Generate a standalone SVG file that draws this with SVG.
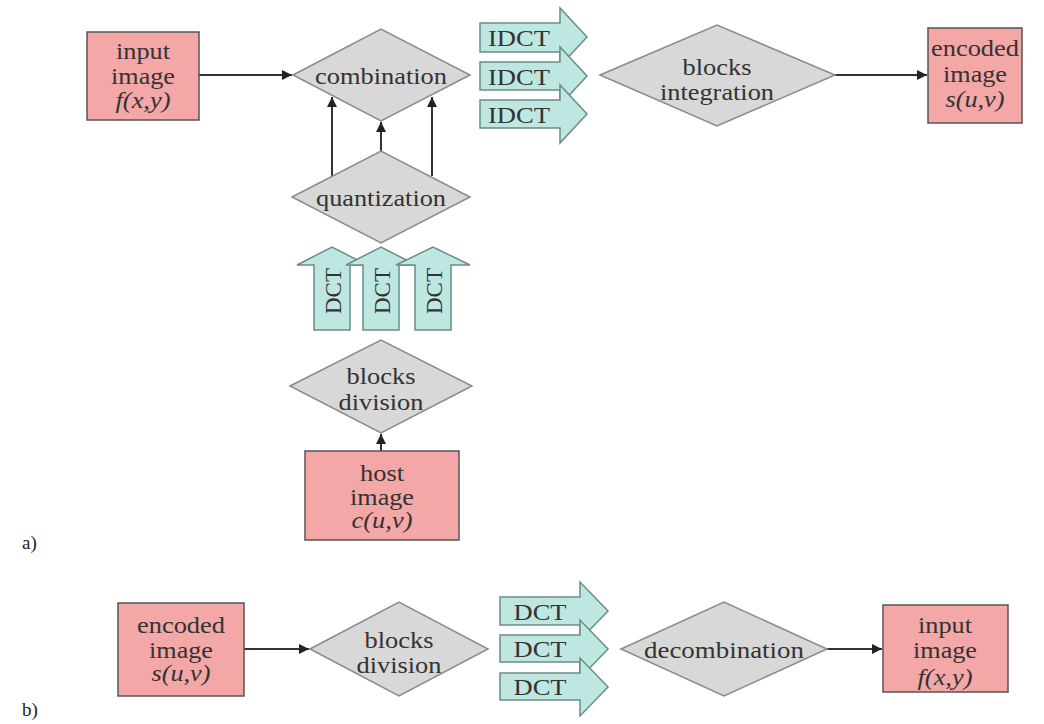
<svg xmlns="http://www.w3.org/2000/svg" width="1044" height="724" viewBox="0 0 1044 724">
<defs>
<style>
.box{fill:#f4a7a7;stroke:#555;stroke-width:1.5}
.dia{fill:#d8d8d8;stroke:#8a8a8a;stroke-width:1.5}
.arr{fill:#bfe7e1;stroke:#6b8c88;stroke-width:1.5}
.t{font-family:"Liberation Serif","Times New Roman",serif;font-size:23px;fill:#333;text-anchor:middle;dominant-baseline:central}
.i{font-style:italic}
.lab{font-family:"Liberation Serif","Times New Roman",serif;font-size:19px;fill:#222}
.c{stroke:#333;stroke-width:2;fill:none;marker-end:url(#ah)}
</style>
<marker id="ah" viewBox="0 0 10 10" refX="10" refY="5" markerWidth="5" markerHeight="5" orient="auto" markerUnits="strokeWidth">
<path d="M0,0 L10,5 L0,10 z" fill="#222"/>
</marker>
</defs>
<rect width="1044" height="724" fill="#fff"/>

<g id="connectors">
<line class="c" x1="199" y1="75" x2="292" y2="75"/>
<line class="c" x1="332" y1="176" x2="332" y2="97"/>
<line class="c" x1="381" y1="151" x2="381" y2="122"/>
<line class="c" x1="432" y1="176" x2="432" y2="97"/>
<line class="c" x1="381" y1="451" x2="381" y2="434"/>
<line class="c" x1="835" y1="75" x2="927" y2="75"/>
<line class="c" x1="244" y1="649" x2="309" y2="649"/>
<line class="c" x1="827" y1="649" x2="882" y2="649"/>
</g>

<g id="input-image-a">
<rect class="box" x="87" y="32" width="112" height="88"/>
<text class="t" x="143" y="51" textLength="54" lengthAdjust="spacingAndGlyphs">input</text>
<text class="t" x="143" y="76" textLength="64" lengthAdjust="spacingAndGlyphs">image</text>
<text class="t i" x="143" y="100" textLength="55" lengthAdjust="spacingAndGlyphs">f(x,y)</text>
</g>

<g id="combination">
<polygon class="dia" points="293,75 381,29 470,75 381,121"/>
<text class="t" x="381" y="76" textLength="132" lengthAdjust="spacingAndGlyphs">combination</text>
</g>

<g id="quantization">
<polygon class="dia" points="292,197 381,151 470,197 381,243"/>
<text class="t" x="381" y="198" textLength="130" lengthAdjust="spacingAndGlyphs">quantization</text>
</g>

<g id="idct-1">
<polygon class="arr" points="480,23 560,23 560,8 587,37 560,66 560,52 480,52"/>
<text class="t" x="519" y="38" textLength="62" lengthAdjust="spacingAndGlyphs">IDCT</text>
</g>
<g id="idct-2">
<polygon class="arr" points="480,62 560,62 560,47 587,76 560,105 560,90 480,90"/>
<text class="t" x="519" y="77" textLength="62" lengthAdjust="spacingAndGlyphs">IDCT</text>
</g>
<g id="idct-3">
<polygon class="arr" points="480,100 560,100 560,85 587,114 560,143 560,128 480,128"/>
<text class="t" x="519" y="115" textLength="62" lengthAdjust="spacingAndGlyphs">IDCT</text>
</g>

<g id="blocks-integration">
<polygon class="dia" points="600,75 717,25 835,75 717,126"/>
<text class="t" x="717" y="67" textLength="69" lengthAdjust="spacingAndGlyphs">blocks</text>
<text class="t" x="717" y="92" textLength="114" lengthAdjust="spacingAndGlyphs">integration</text>
</g>

<g id="encoded-image-a">
<rect class="box" x="928" y="28" width="94" height="95"/>
<text class="t" x="975" y="48" textLength="88" lengthAdjust="spacingAndGlyphs">encoded</text>
<text class="t" x="975" y="74" textLength="64" lengthAdjust="spacingAndGlyphs">image</text>
<text class="t i" x="975" y="99" textLength="59" lengthAdjust="spacingAndGlyphs">s(u,v)</text>
</g>

<g id="dct-up-1">
<polygon class="arr" points="314,330 314,265 297,265 332,247 367,265 350,265 350,330"/>
<text class="t" transform="translate(333,291) rotate(-90)">DCT</text>
</g>
<g id="dct-up-2">
<polygon class="arr" points="363,330 363,265 346,265 381,247 416,265 399,265 399,330"/>
<text class="t" transform="translate(382,291) rotate(-90)">DCT</text>
</g>
<g id="dct-up-3">
<polygon class="arr" points="415,330 415,265 396,265 433,247 470,265 451,265 451,330"/>
<text class="t" transform="translate(434,291) rotate(-90)">DCT</text>
</g>

<g id="blocks-division-a">
<polygon class="dia" points="290,386 381,340 472,386 381,433"/>
<text class="t" x="381" y="376" textLength="69" lengthAdjust="spacingAndGlyphs">blocks</text>
<text class="t" x="381" y="402" textLength="85" lengthAdjust="spacingAndGlyphs">division</text>
</g>

<g id="host-image">
<rect class="box" x="305" y="451" width="154" height="89"/>
<text class="t" x="382" y="473" textLength="44" lengthAdjust="spacingAndGlyphs">host</text>
<text class="t" x="382" y="497" textLength="64" lengthAdjust="spacingAndGlyphs">image</text>
<text class="t i" x="382" y="520" textLength="61" lengthAdjust="spacingAndGlyphs">c(u,v)</text>
</g>

<text class="lab" x="22" y="549">a)</text>

<g id="encoded-image-b">
<rect class="box" x="118" y="603" width="126" height="93"/>
<text class="t" x="181" y="625" textLength="88" lengthAdjust="spacingAndGlyphs">encoded</text>
<text class="t" x="181" y="650" textLength="64" lengthAdjust="spacingAndGlyphs">image</text>
<text class="t i" x="181" y="673" textLength="59" lengthAdjust="spacingAndGlyphs">s(u,v)</text>
</g>

<g id="blocks-division-b">
<polygon class="dia" points="310,649 399,602 488,649 399,696"/>
<text class="t" x="399" y="640" textLength="69" lengthAdjust="spacingAndGlyphs">blocks</text>
<text class="t" x="399" y="665" textLength="85" lengthAdjust="spacingAndGlyphs">division</text>
</g>

<g id="dct-1">
<polygon class="arr" points="500,597 580,597 580,582 608,611 580,640 580,625 500,625"/>
<text class="t" x="540" y="612" textLength="53" lengthAdjust="spacingAndGlyphs">DCT</text>
</g>
<g id="dct-2">
<polygon class="arr" points="500,635 580,635 580,620 608,649 580,678 580,662 500,662"/>
<text class="t" x="540" y="649" textLength="53" lengthAdjust="spacingAndGlyphs">DCT</text>
</g>
<g id="dct-3">
<polygon class="arr" points="500,673 580,673 580,658 608,687 580,716 580,700 500,700"/>
<text class="t" x="540" y="687" textLength="53" lengthAdjust="spacingAndGlyphs">DCT</text>
</g>

<g id="decombination">
<polygon class="dia" points="621,649 724,602 827,649 724,696"/>
<text class="t" x="724" y="650" textLength="160" lengthAdjust="spacingAndGlyphs">decombination</text>
</g>

<g id="input-image-b">
<rect class="box" x="883" y="605" width="125" height="87"/>
<text class="t" x="945" y="625" textLength="54" lengthAdjust="spacingAndGlyphs">input</text>
<text class="t" x="945" y="650" textLength="64" lengthAdjust="spacingAndGlyphs">image</text>
<text class="t i" x="945" y="677" textLength="55" lengthAdjust="spacingAndGlyphs">f(x,y)</text>
</g>

<text class="lab" x="22" y="716">b)</text>
</svg>
